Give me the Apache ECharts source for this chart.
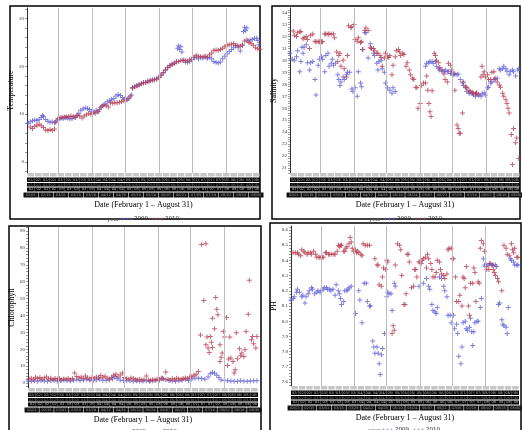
<!DOCTYPE html>
<html>
<head>
<meta charset="utf-8">
<script src="https://cdn.jsdelivr.net/npm/echarts@6/dist/echarts.min.js"></script>
<style>
html,body{margin:0;padding:0;background:#fff}
#main{width:522px;height:430px}
</style>
</head>
<body>
<div id="main"></div>
<script>
// days counted from Feb 1 (0) to Aug 31 (212)
var monthStarts = [28, 59, 89, 120, 150, 181];
var weekLabels = ['02/01','02/08','02/15','02/22','03/01','03/08','03/15','03/22','03/29','04/05','04/12',
  '04/19','04/26','05/03','05/10','05/17','05/24','05/31','06/07','06/14','06/21','06/28','07/05',
  '07/12','07/19','07/26','08/02','08/09','08/16','08/23','08/30'];

var tempLabels = [0, 10, 20, 30];
var salLabels = [21,22,23,24,25,26,27,28,29,30,31,32,33,34];
var chlLabels = [0,10,20,30,40,50,60,70,80,90];
var phLabels = [7.6,7.7,7.8,7.9,8.0,8.1,8.2,8.3,8.4,8.5,8.6];

var temp2009 = [[1,8.1],[3,8.4],[5,8.6],[7,8.8],[9,8.7],[11,8.9],[13,9.3],[14,9.7],[15,9.5],[17,8.9],[19,8.5],[21,8.3],
  [23,8.4],[25,8.2],[27,8.6],[29,9.0],[31,9.2],[33,9.1],[35,9.3],[37,9.2],[39,9.0],[41,9.1],[43,9.4],[45,9.6],[47,10.2],
  [49,10.8],[51,11.1],[53,11.3],[55,11.2],[57,11.0],[59,10.6],[61,10.4],[63,10.8],[65,10.5],[67,11.4],[69,11.8],[71,12.1],
  [73,12.6],[75,12.8],[77,13.1],[79,13.3],[81,13.8],[83,14.1],[85,13.9],[87,13.5],[89,13.2],[91,13.0],[93,13.4],[95,14.0],
  [96,15.6],[98,15.8],[100,16.0],[102,16.2],[104,16.4],[106,16.6],[108,16.7],[110,16.9],[112,17.0],[114,17.2],[116,17.3],
  [118,17.4],[120,17.7],[122,18.2],[124,18.7],[126,19.3],[128,19.8],[130,20.2],[132,20.5],[134,20.7],[136,21.0],[137,23.8],
  [138,24.3],[139,23.5],[140,24.1],[141,23.0],[142,21.3],[144,20.9],[146,20.8],[148,21.0],[150,21.4],[152,21.8],[154,21.9],
  [156,21.6],[158,21.9],[160,21.8],[162,22.0],[164,21.7],[166,21.9],[168,21.6],[170,21.0],[172,20.8],[174,20.7],[176,20.9],
  [178,21.6],[180,22.1],[182,22.6],[184,23.1],[186,23.5],[188,23.9],[190,24.3],[192,24.0],[194,23.2],[196,24.3],[197,27.3],
  [198,28.2],[199,27.5],[200,28.0],[201,25.3],[203,25.5],[205,25.6],[207,25.8],[209,25.9],[210,25.4],[211,24.5]];
var temp2010 = [[3,7.3],[5,7.0],[7,7.4],[9,7.7],[11,7.9],[13,7.6],[15,7.2],[17,6.7],[19,6.6],[21,6.8],[23,6.6],[25,6.9],
  [26,8.3],[28,9.0],[30,9.2],[32,9.3],[34,9.4],[36,9.4],[38,9.5],[40,9.6],[42,9.5],[44,9.3],[46,9.8],[48,9.6],[50,9.2],
  [52,9.6],[54,9.9],[56,10.2],[58,10.0],[60,10.3],[62,10.2],[64,10.5],[66,11.0],[68,11.6],[70,11.9],[72,11.8],[74,11.5],
  [76,12.4],[78,12.3],[80,12.4],[82,12.4],[84,12.5],[86,12.6],[88,12.8],[90,12.9],[92,13.3],[94,13.8],[96,15.4],[98,15.7],
  [100,15.9],[102,16.1],[104,16.3],[106,16.5],[108,16.6],[110,16.8],[112,17.0],[114,17.1],[116,17.2],[118,17.3],[120,17.6],
  [122,18.1],[124,18.6],[126,19.2],[128,19.7],[130,20.1],[132,20.4],[134,20.6],[136,20.9],[138,21.0],[140,21.2],[142,21.3],
  [144,21.2],[146,21.1],[148,21.4],[150,21.5],[152,21.9],[154,22.3],[156,22.1],[158,22.0],[160,21.9],[162,22.1],[164,21.9],
  [166,22.4],[168,22.8],[170,23.3],[172,23.4],[174,23.3],[176,23.5],[178,23.8],[180,24.1],[182,24.4],[184,24.5],[186,24.6],
  [188,24.8],[190,24.4],[192,24.3],[194,24.2],[196,24.5],[198,25.3],[200,25.5],[202,25.0],[204,24.7],[206,24.4],[208,23.9],
  [210,23.7],[212,23.6]];

var sal2009 = [[0,30.6],[2,30.1],[4,30.0],[6,30.3],[7,30.8],[9,29.05],[10,29.9],[11,31.1],[12,30.6],[13,31.1],[15,31.3],
  [16,29.8],[18,29.2],[19,29.8],[21,29.9],[23,28.4],[24,27.1],[26,29.6],[27,30.1],[29,30.3],[30,30.1],[32,29.05],[33,30.4],
  [35,30.6],[36,29.5],[38,29.75],[39,30.1],[40,29.6],[42,29.75],[44,28.8],[45,28.4],[46,27.9],[47,28.2],[49,28.6],[50,28.4],
  [52,28.8],[53,29.0],[55,29.0],[57,27.6],[58,27.4],[60,27.7],[62,27.0],[63,29.05],[65,28.1],[66,27.8],[67,30.9],[69,32.3],
  [70,32.3],[72,30.2],[74,31.4],[75,31.0],[77,30.6],[78,30.4],[80,29.75],[81,29.2],[82,29.9],[84,30.0],[85,29.3],[87,29.0],
  [88,28.1],[90,27.7],[92,27.5],[94,27.25],[95,27.7],[97,27.4],[125,29.5],[126,29.75],[128,29.8],[129,29.9],[131,29.9],
  [132,29.75],[134,29.9],[135,29.5],[137,29.3],[138,29.2],[140,29.1],[142,29.05],[143,29.2],[145,29.05],[146,29.1],[148,28.9],
  [149,28.9],[151,28.8],[152,28.85],[154,28.8],[155,28.85],[157,28.4],[159,28.1],[160,27.9],[162,27.7],[163,27.4],[165,27.25],
  [166,27.3],[168,27.25],[169,27.1],[171,27.0],[172,27.2],[174,27.1],[176,27.0],[177,27.2],[179,27.3],[180,27.1],[182,27.7],
  [183,27.75],[185,28.1],[186,28.2],[188,28.4],[189,28.4],[191,28.5],[193,29.3],[194,29.2],[196,29.3],[197,29.5],[199,29.3],
  [200,29.1],[202,28.8],[203,29.1],[205,29.2],[206,29.05],[208,28.7],[210,29.2],[211,29.3]];
var sal2010 = [[3,32.45],[4,32.1],[6,32.0],[7,32.3],[9,32.4],[10,32.4],[12,31.8],[13,31.9],[15,32.0],[16,31.75],[18,31.0],
  [19,32.1],[21,32.2],[23,31.6],[24,31.55],[26,31.55],[27,31.55],[29,31.55],[30,31.55],[32,32.2],[33,32.2],[35,32.2],[36,32.2],
  [38,32.2],[40,32.2],[41,31.9],[43,30.7],[44,29.9],[45,30.4],[46,30.6],[47,29.5],[49,30.0],[50,29.3],[52,28.6],[53,30.4],
  [54,32.9],[56,32.75],[57,32.8],[59,33.0],[60,31.75],[62,31.6],[63,31.9],[65,31.5],[66,31.55],[67,30.9],[69,32.5],[70,32.7],
  [72,32.5],[74,31.1],[75,31.0],[77,31.0],[78,30.8],[80,30.6],[81,30.6],[83,30.4],[84,30.25],[85,29.5],[87,30.2],[88,30.6],
  [90,30.3],[91,30.25],[92,30.4],[94,28.8],[95,29.6],[97,30.3],[98,30.8],[100,30.9],[101,30.7],[102,30.4],[104,30.6],
  [105,30.5],[107,29.5],[108,29.8],[110,29.2],[111,28.8],[113,28.5],[114,28.4],[116,27.75],[117,27.7],[118,26.0],[120,26.4],
  [121,27.9],[123,28.1],[125,28.1],[126,28.7],[127,27.5],[128,26.4],[129,25.7],[130,25.3],[131,27.45],[133,30.6],[134,30.4],
  [135,30.0],[137,29.8],[138,29.4],[140,29.2],[142,28.85],[143,28.4],[145,28.2],[146,29.75],[148,29.6],[149,29.2],[151,28.9],
  [152,27.5],[154,24.6],[155,24.3],[156,23.9],[157,23.9],[159,25.6],[160,28.2],[162,27.8],[163,27.7],[165,27.5],[166,27.4],
  [168,27.3],[169,27.25],[171,27.2],[172,27.3],[174,27.1],[176,28.6],[177,29.5],[178,28.8],[179,29.05],[180,28.6],[182,28.8],
  [183,28.4],[185,28.4],[186,29.0],[188,29.05],[189,28.5],[191,28.2],[193,27.95],[194,27.75],[196,27.25],[197,27.0],[199,26.7],
  [200,26.4],[201,26.0],[202,25.6],[204,23.8],[205,21.3],[206,24.3],[208,23.1],[209,23.5],[211,21.8]];

var chl2009 = [[0,1.2],[3,1.0],[6,1.4],[9,1.1],[12,1.5],[15,1.2],[18,1.0],[21,1.3],[24,1.6],[27,1.2],[30,1.5],[33,1.8],
  [36,1.4],[39,1.2],[42,1.6],[45,2.0],[48,1.5],[51,1.8],[54,2.2],[57,1.6],[60,1.4],[63,1.9],[66,2.3],[69,1.7],[72,1.5],
  [75,1.9],[78,2.4],[80,3.8],[82,2.6],[85,1.8],[88,1.5],[91,1.3],[94,1.4],[97,1.1],[100,1.3],[103,1.0],[106,1.2],[109,1.4],
  [112,1.1],[115,1.3],[118,1.6],[121,1.8],[124,2.6],[127,2.0],[130,1.5],[133,1.2],[136,1.0],[139,1.3],[142,1.6],[145,2.2],
  [148,1.5],[151,2.4],[154,2.8],[157,3.0],[160,2.6],[163,2.2],[166,3.5],[168,5.5],[170,6.2],[172,5.8],[174,4.6],[176,3.2],
  [178,1.8],[181,1.6],[184,1.3],[187,1.2],[190,1.0],[193,1.1],[196,1.3],[199,1.1],[202,1.0],[205,1.2],[208,1.4],[211,1.3]];
var chl2010 = [[1,2.3],[3,2.8],[5,2.0],[7,3.4],[9,2.6],[11,3.2],[13,2.2],[15,2.9],[17,3.6],[19,2.4],[21,2.8],[23,2.1],
  [25,2.6],[27,2.3],[29,2.5],[31,2.0],[33,2.4],[35,2.2],[37,2.6],[39,2.0],[41,2.5],[43,5.9],[45,3.8],[47,2.9],[49,3.5],
  [51,2.6],[53,4.2],[55,3.0],[57,2.4],[59,3.2],[61,2.8],[63,3.6],[65,2.9],[67,4.5],[69,3.4],[71,4.0],[73,2.8],[75,2.4],
  [77,3.3],[79,4.6],[81,5.2],[83,3.6],[85,4.8],[87,5.9],[89,3.2],[91,2.5],[93,2.2],[95,3.0],[97,2.6],[99,2.0],[101,1.8],
  [103,2.2],[105,1.6],[107,2.0],[109,4.1],[111,1.8],[113,1.5],[115,2.0],[117,1.7],[119,2.2],[121,1.9],[123,3.0],[125,2.4],
  [127,6.5],[129,2.2],[131,1.8],[133,2.5],[135,2.0],[137,2.8],[139,2.3],[141,2.1],[143,2.7],[145,3.0],[147,2.6],[149,3.4],
  [151,3.8],[153,4.6],[155,5.2],[157,6.8],[159,28.5],[160,82],[162,48.8],[164,82.5],[164,22.6],[165,27.2],[166,20.7],
  [167,18.1],[168,27.6],[169,24.2],[170,21],[170,38.4],[172,32.1],[173,50.6],[174,43.7],[175,40.4],[177,22.6],[177,12.8],
  [178,15.2],[179,17.7],[180,30.5],[181,27.2],[183,38.8],[184,10.4],[185,14.2],[186,27.2],[187,14.8],[189,12.8],[190,5.9],
  [191,7.9],[192,29.7],[193,14.4],[195,20.3],[196,16.1],[197,17.7],[199,15.7],[200,19.7],[201,30.5],[203,40.7],[204,60.8],
  [206,25.6],[207,27.6],[208,23.2],[210,20.7],[211,27.6]];

var ph2009 = [[0,8.14],[2,8.15],[3,8.16],[5,8.19],[6,8.21],[8,8.19],[10,8.16],[11,8.17],[13,8.12],[14,8.16],[16,8.18],
  [17,8.2],[19,8.22],[20,8.21],[22,8.18],[24,8.19],[25,8.2],[27,8.19],[28,8.2],[30,8.21],[31,8.22],[33,8.22],[34,8.21],
  [36,8.21],[37,8.2],[39,8.21],[41,8.17],[42,8.24],[44,8.2],[45,8.18],[46,8.15],[47,8.11],[49,8.13],[50,8.2],[52,8.2],
  [53,8.21],[54,8.22],[56,8.23],[60,8.05],[63,8.2],[64,8.14],[66,7.99],[68,8.25],[70,8.25],[71,8.13],[73,8.1],[74,8.1],
  [76,7.87],[77,7.83],[78,7.79],[80,7.83],[81,7.79],[82,7.72],[83,7.65],[84,7.78],[85,7.82],[87,7.92],[89,8.16],[90,8.19],
  [91,8.18],[93,8.18],[94,8.07],[96,8.25],[97,8.23],[119,8.23],[123,8.25],[126,8.28],[128,8.23],[129,8.21],[131,8.11],
  [132,8.07],[134,8.06],[135,8.05],[136,8.09],[138,8.29],[140,8.28],[142,8.23],[143,8.2],[145,8.16],[146,8.04],[148,8.04],
  [149,7.99],[151,8.04],[152,7.95],[154,7.98],[155,7.92],[156,7.77],[158,7.72],[159,7.83],[160,7.99],[162,8.0],[163,7.95],
  [164,7.94],[166,7.96],[167,8.02],[168,7.93],[169,7.84],[170,7.93],[171,7.99],[173,8.0],[174,8.0],[176,8.09],[177,8.15],
  [179,8.41],[180,8.37],[182,8.37],[184,8.37],[185,8.38],[187,8.37],[188,8.37],[190,8.37],[191,8.36],[193,8.11],[194,8.12],
  [196,8.01],[197,7.98],[198,7.97],[200,7.96],[201,7.92],[202,8.09],[204,8.41],[205,8.40],[207,8.39],[208,8.37],[210,8.37],
  [211,8.37]];
var ph2010 = [[2,8.45],[4,8.45],[6,8.45],[7,8.44],[9,8.43],[10,8.47],[12,8.46],[13,8.45],[15,8.44],[16,8.45],[18,8.45],
  [19,8.44],[21,8.46],[23,8.44],[24,8.42],[26,8.42],[27,8.42],[29,8.42],[30,8.42],[32,8.45],[33,8.45],[35,8.44],[36,8.44],
  [38,8.44],[40,8.44],[41,8.44],[43,8.46],[44,8.5],[45,8.49],[46,8.5],[47,8.5],[49,8.46],[50,8.46],[51,8.48],[52,8.49],
  [54,8.51],[55,8.55],[56,8.52],[57,8.48],[58,8.46],[60,8.47],[61,8.45],[62,8.46],[63,8.45],[65,8.44],[66,8.43],[67,8.51],
  [69,8.5],[71,8.5],[73,8.5],[78,8.41],[80,8.37],[81,8.37],[82,8.24],[84,8.23],[85,8.29],[86,8.35],[88,8.34],[89,8.4],
  [90,8.39],[94,7.92],[95,7.97],[96,7.94],[97,8.37],[99,8.51],[101,8.5],[102,8.47],[103,8.3],[105,8.11],[106,8.11],[107,8.18],
  [108,8.44],[109,8.44],[110,8.39],[112,8.22],[114,8.23],[115,8.34],[116,8.34],[117,8.29],[119,8.39],[120,8.39],[121,8.38],
  [122,8.4],[123,8.41],[125,8.42],[126,8.35],[127,8.44],[128,8.41],[130,8.38],[131,8.34],[132,8.29],[134,8.29],[135,8.32],
  [136,8.4],[138,8.39],[139,8.34],[140,8.31],[142,8.3],[143,8.28],[145,8.31],[146,8.47],[147,8.48],[149,8.48],[150,8.41],
  [151,8.41],[153,8.29],[154,8.13],[156,8.13],[157,8.17],[159,8.1],[160,8.29],[161,8.28],[162,8.22],[163,8.36],[165,8.1],
  [166,8.04],[167,8.25],[169,8.25],[170,8.35],[171,8.32],[172,8.13],[174,8.26],[175,8.25],[176,8.48],[177,8.53],[179,8.51],
  [180,8.46],[181,8.36],[182,8.34],[184,8.34],[185,8.38],[187,8.37],[188,8.34],[189,8.32],[190,8.3],[192,8.28],[193,8.26],
  [196,8.2],[198,8.5],[200,8.48],[201,8.44],[203,8.43],[205,8.51],[206,8.47],[207,8.45],[208,8.48],[210,8.42],[211,8.42]];

var BLUE = '#6060da', RED = '#b63e52';
var plus = 'path://M4,0H6V4H10V6H6V10H4V6H0V4H4Z';
var plus3 = 'path://M4,0H6V4H10V6H6V10H4V6H0V4H4Z M16,0H18V4H22V6H18V10H16V6H12V4H16Z M28,0H30V4H34V6H30V10H28V6H24V4H28Z';
var serif = 'Liberation Serif';

function minorTicks(a, b, step) {
  var out = [];
  for (var v = a; v <= b + 1e-9; v += step) out.push(+v.toFixed(3));
  return out;
}

var panels = [
  {name: 'Temperature', d: [temp2009, temp2010], min: -2.3, max: 32.2, labels: tempLabels, ticks: minorTicks(-2, 32, 2),
   grid: {left: 27, top: 8, width: 233, height: 165}, frame: [10, 6, 250, 213], ly: 211, lx: 116, yx: 102},
  {name: 'Salinity', d: [sal2009, sal2010], min: 20.58, max: 34.38, labels: salLabels, ticks: minorTicks(20.6, 34.4, 0.2),
   grid: {left: 290, top: 8, width: 230, height: 165}, frame: [272, 6, 248, 213], ly: 211, lx: 379, yx: 364},
  {name: 'Chlorophyll', d: [chl2009, chl2010], min: -2.96, max: 92.4, labels: chlLabels, ticks: minorTicks(-2, 92, 2),
   grid: {left: 28, top: 227, width: 230, height: 161}, frame: [9, 226, 252, 210], ly: 424, lx: 114, yx: 101},
  {name: 'PH', d: [ph2009, ph2010], min: 7.574, max: 8.626, labels: phLabels, ticks: minorTicks(7.58, 8.62, 0.02), fix: 1,
   grid: {left: 291, top: 226, width: 228, height: 160}, frame: [270, 223, 251, 210], ly: 422, lx: 377, yx: 363}
];

// rows of crowded tick labels under each plot
var rows = [
  {offset: 0, h: 3.5, bg: '#c6c6c6', fg: '#c6c6c6', every: 1, gap: 1},
  {offset: 4.5, h: 4.5, bg: '#000', fg: '#bbb', every: 1, gap: 0, fmt: function (s) { return s + '/2009 ' + s; }},
  {offset: 10, h: 3.5, bg: '#000', fg: '#777', every: 1, gap: 0, fmt: function (s) { return s + '/2010'; }},
  {offset: 14.5, h: 4, bg: '#000', fg: '#ccc', every: 1, gap: 0, fmt: function (s) { return ' ' + s + ' 09'; }},
  {offset: 19.5, h: 5, bg: '#111', fg: '#999', every: 2, gap: 0.5, fmt: function (s) { return s + 'Wed' + s; }}
];

var grids = [], xAxes = [], yAxes = [], series = [], legends = [], titles = [], frames = [];

panels.forEach(function (p, i) {
  grids.push(Object.assign({containLabel: false, outerBoundsMode: 'none'}, p.grid));
  xAxes.push({
    type: 'value', gridIndex: i, min: 0, max: 212,
    axisLine: {show: false}, axisTick: {show: false}, axisLabel: {show: false}, splitLine: {show: false},
    name: 'Date (February 1 – August 31)', nameLocation: 'middle', nameGap: 28,
    nameTextStyle: {fontFamily: serif, fontSize: 8, color: '#000'}
  });
  var cw = p.grid.width / weekLabels.length;
  rows.forEach(function (r) {
    xAxes.push({
      type: 'category', gridIndex: i, position: 'bottom', offset: r.offset, data: weekLabels,
      axisLine: {show: false}, axisTick: {show: false}, splitLine: {show: false},
      axisLabel: {
        interval: r.every - 1, margin: 0, fontSize: 3.5, lineHeight: r.h, height: r.h,
        width: cw * r.every - r.gap, overflow: 'truncate', ellipsis: '', padding: 0,
        color: r.fg, backgroundColor: r.bg, fontFamily: 'DejaVu Sans',
        formatter: r.fmt ? r.fmt : function () { return '\u00a0'; }
      }
    });
  });
  yAxes.push({
    type: 'value', gridIndex: i, min: p.min, max: p.max,
    axisLine: {show: true, lineStyle: {color: '#333', width: 1}},
    axisTick: {show: true, length: 2, customValues: p.ticks, lineStyle: {color: '#555', width: 0.6}},
    axisLabel: {customValues: p.labels, fontSize: 5, color: '#333', margin: 3, fontFamily: serif,
      formatter: p.fix ? function (v) { return v.toFixed(1); } : null},
    splitLine: {show: false},
    name: p.name, nameLocation: 'middle', nameGap: 8,
    nameTextStyle: {fontFamily: serif, fontSize: 8, color: '#000'}
  });
  ['2009', '2010'].forEach(function (yr, k) {
    var s = {
      name: yr, type: 'scatter', xAxisIndex: i * (rows.length + 1), yAxisIndex: i,
      data: p.d[k], symbol: plus, symbolSize: 5, itemStyle: {color: k ? RED : BLUE}, silent: true
    };
    if (k === 0) {
      s.markLine = {
        silent: true, symbol: 'none', label: {show: false}, animation: false,
        lineStyle: {color: '#bdbdbd', width: 1, type: 'solid'},
        data: monthStarts.map(function (d) { return {xAxis: d}; })
      };
    }
    series.push(s);
  });
  legends.push({
    data: ['2009', '2010'], left: p.lx, top: p.ly, icon: plus3, itemWidth: 11, itemHeight: 3.5, itemGap: 4,
    selectedMode: false, textStyle: {fontSize: 5.5, color: '#222', fontFamily: 'DejaVu Sans', padding: [0, 0, 0, -3]}
  });
  titles.push({text: 'year', left: p.yx, top: p.ly + 0.5,
    textStyle: {fontSize: 5.5, color: '#555', fontWeight: 'normal', fontFamily: 'DejaVu Sans'}});
  frames.push({type: 'rect', shape: {x: p.frame[0], y: p.frame[1], width: p.frame[2], height: p.frame[3]},
    style: {fill: 'none', stroke: '#000', lineWidth: 1.5}, silent: true});
});

var chart = echarts.init(document.getElementById('main'));
chart.setOption({
  animation: false,
  backgroundColor: '#fff',
  title: titles,
  legend: legends,
  grid: grids,
  xAxis: xAxes,
  yAxis: yAxes,
  series: series,
  graphic: frames
});
window.addEventListener('resize', function () { chart.resize(); });
</script>
</body>
</html>
